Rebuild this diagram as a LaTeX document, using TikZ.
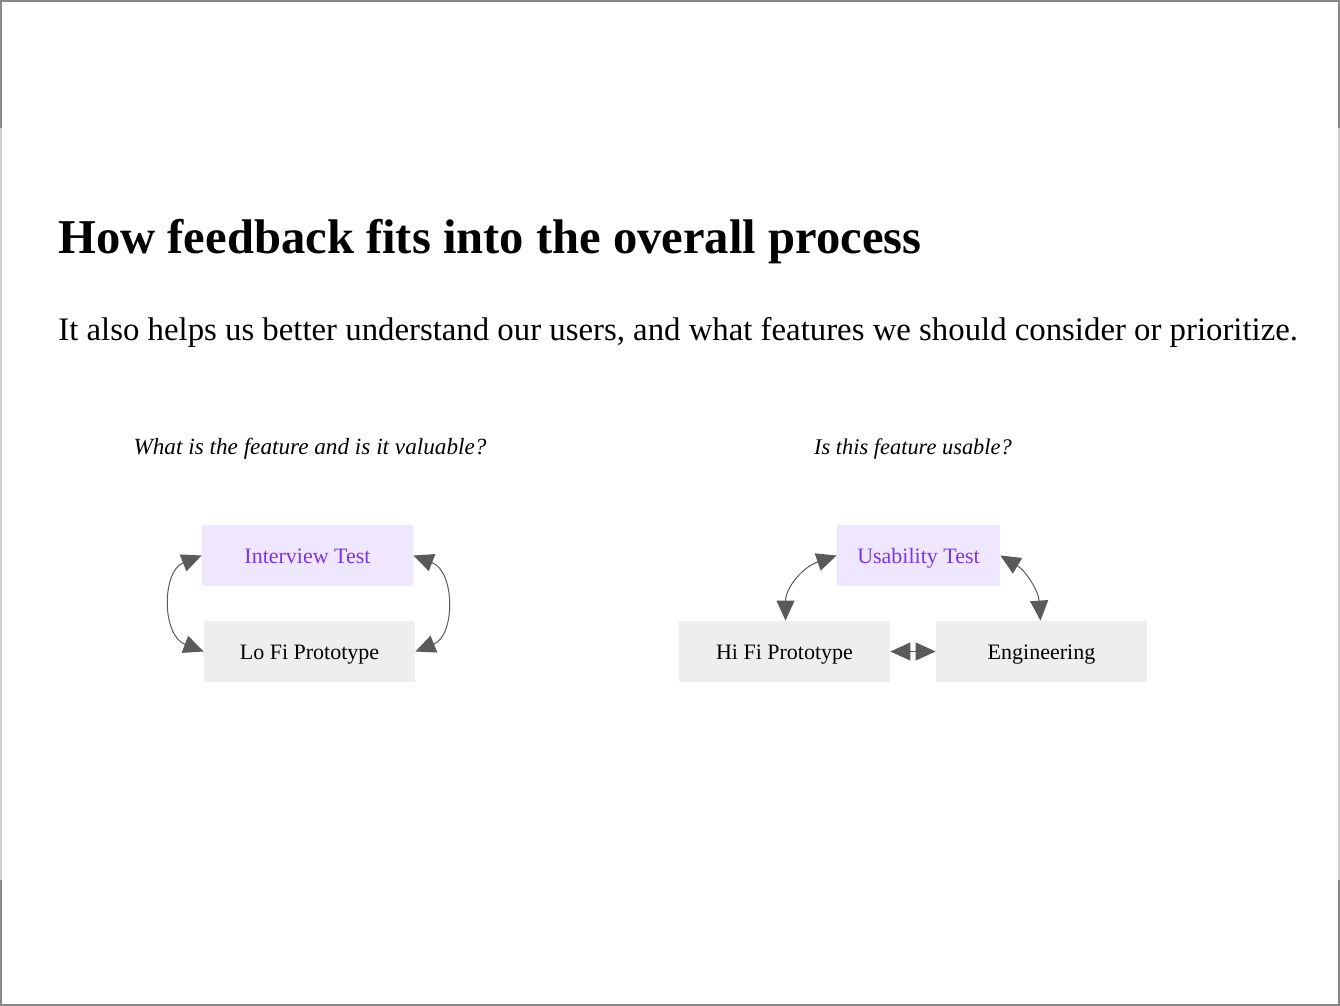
\documentclass[tikz,border=0pt]{standalone}
\usepackage{fontspec}
\setmainfont{Liberation Serif}
\usetikzlibrary{arrows.meta}
\definecolor{framedark}{HTML}{888888}
\definecolor{framelight}{HTML}{D0D0D0}
\definecolor{lav}{HTML}{EFE7FF}
\definecolor{boxgray}{HTML}{EEEEEE}
\definecolor{purp}{HTML}{7B35EE}
\definecolor{arr}{HTML}{5A5A5A}
\tikzset{
  box/.style={rectangle, inner sep=0pt, minimum width=105.5pt, minimum height=30.5pt, text height=7.5pt, text depth=0pt, font=\fontsize{11}{13}\selectfont, text=black, fill=boxgray},
  testbox/.style={box, fill=lav, text=purp},
  link/.style={draw=arr, line width=0.5pt, {Triangle[length=10pt,width=9pt]}-{Triangle[length=10pt,width=9pt]}, color=arr},
}
\begin{document}
\begin{tikzpicture}[x=0.5pt,y=-0.5pt]
\useasboundingbox (0,0) rectangle (1340,1006);
% frame
\fill[framedark] (0,0) rectangle (1340,2);
\fill[framedark] (0,1004) rectangle (1340,1006);
\fill[framedark] (0,0) rectangle (2,128);
\fill[framelight] (0,128) rectangle (2,880);
\fill[framedark] (0,880) rectangle (2,1006);
\fill[framedark] (1338,0) rectangle (1340,128);
\fill[framelight] (1338,128) rectangle (1340,880);
\fill[framedark] (1338,880) rectangle (1340,1006);
% texts
\node[anchor=base west, inner sep=0pt, font=\fontsize{24.3}{29}\selectfont\bfseries] (title) at (58,253) {How feedback fits into the overall process};
\node[anchor=base west, inner sep=0pt, font=\fontsize{16.4}{19}\selectfont] (sub) at (58,340) {It also helps us better understand our users, and what features we should consider or prioritize.};
\node[anchor=base, inner sep=0pt, font=\fontsize{11.6}{14}\selectfont\itshape] (q1) at (310,454) {What is the feature and is it valuable?};
\node[anchor=base, inner sep=0pt, font=\fontsize{11.2}{14}\selectfont\itshape] (q2) at (913,454) {Is this feature usable?};
% boxes
\node[testbox] (it) at (307.5,555.5) {Interview Test};
\node[box] (lf) at (309.5,651.5) {Lo Fi Prototype};
\node[testbox, minimum width=81.5pt] (ut) at (918.5,555.5) {Usability Test};
\node[box] (hf) at (784.5,651.5) {Hi Fi Prototype};
\node[box] (en) at (1041.5,651.5) {Engineering};
% connectors
\draw[link] (it.west) .. controls +(-40,16) and +(-42,-16) .. (lf.west);
\draw[link] (it.east) .. controls +(42,16) and +(40,-16) .. (lf.east);
\draw[link] (ut.west) .. controls +(-35,12) and +(0,-32) .. ([xshift=0.5pt]hf.north);
\draw[link] (ut.east) .. controls +(25,15) and +(-2,-30) .. ([xshift=-0.5pt]en.north);
\draw[link] (hf.east) -- (en.west);
\end{tikzpicture}
\end{document}
